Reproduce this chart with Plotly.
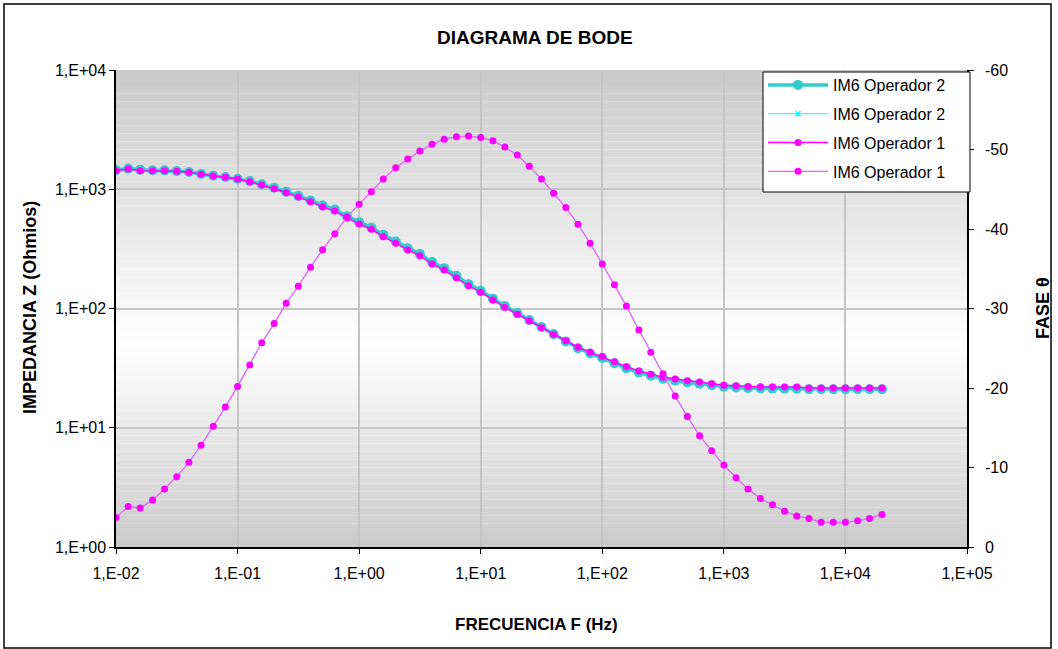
import plotly.graph_objects as go

# ---------------- data ----------------
freq_hz = [0.01, 0.0126, 0.0158, 0.02, 0.0251, 0.0316, 0.0398, 0.0501, 0.0631, 0.0794,
           0.1, 0.126, 0.158, 0.2, 0.251, 0.316, 0.398, 0.501, 0.631, 0.794,
           1, 1.26, 1.58, 2, 2.51, 3.16, 3.98, 5.01, 6.31, 7.94,
           10, 12.6, 15.8, 20, 25.1, 31.6, 39.8, 50.1, 63.1, 79.4,
           100, 126, 158, 200, 251, 316, 398, 501, 631, 794,
           1000, 1260, 1580, 2000, 2510, 3160, 3980, 5010, 6310, 7940,
           10000, 12600, 15800, 20000]

z_op1 = [1432, 1479, 1432, 1432, 1432, 1413, 1387, 1334, 1291, 1259,
         1219, 1157, 1085, 1011, 936, 861, 787, 710, 657, 575,
         511, 462, 400, 352, 310, 277, 236, 210, 181, 155,
         137, 118, 102, 89.5, 78.6, 69, 60.5, 53.7, 47.3, 42.9,
         39.5, 35.8, 32.5, 29.9, 28.1, 26.5, 25.6, 24.8, 24.2, 23.4,
         22.7, 22.5, 22.1, 22.0, 22.0, 22.0, 22.0, 21.5, 21.5, 21.5,
         21.5, 21.5, 21.5, 21.5]

z_op2 = [1450, 1490, 1460, 1445, 1440, 1420, 1395, 1345, 1300, 1265,
         1225, 1170, 1100, 1030, 955, 880, 805, 730, 675, 595,
         530, 478, 415, 365, 320, 287, 245, 218, 188, 160,
         141, 121, 105, 91.5, 80, 70, 61, 53, 46.5, 42,
         38.5, 34.8, 31.5, 29, 27.3, 25.8, 24.8, 24, 23.4, 22.7,
         22.1, 21.8, 21.5, 21.4, 21.3, 21.2, 21.2, 21.0, 21.0, 21.0,
         21.0, 21.0, 21.0, 21.0]

fase_op1 = [-3.7, -5.1, -4.9, -5.9, -7.3, -8.85, -10.65, -12.8, -15.2, -17.6,
            -20.2, -22.9, -25.7, -28.1, -30.65, -32.8, -35.2, -37.4, -39.4, -41.5,
            -43.1, -44.7, -46.3, -47.7, -48.8, -49.8, -50.65, -51.3, -51.6, -51.7,
            -51.5, -51.1, -50.3, -49.3, -47.9, -46.3, -44.5, -42.7, -40.6, -38.2,
            -35.6, -33.0, -30.3, -27.3, -24.5, -21.8, -19.0, -16.4, -14.0, -12.1,
            -10.3, -8.7, -7.3, -6.1, -5.3, -4.5, -3.9, -3.6, -3.1, -3.1,
            -3.1, -3.3, -3.6, -4.1]

fase_op2 = [-3.7, -5.1, -4.9, -5.9, -7.3, -8.85, -10.65, -12.8, -15.2, -17.6,
            -20.2, -22.9, -25.7, -28.1, -30.65, -32.8, -35.2, -37.4, -39.4, -41.5,
            -43.1, -44.7, -46.3, -47.7, -48.8, -49.8, -50.65, -51.3, -51.6, -51.7,
            -51.5, -51.1, -50.3, -49.3, -47.9, -46.3, -44.5, -42.7, -40.6, -38.2,
            -35.6, -33.0, -30.3, -27.3, -24.5, -21.8, -19.0, -16.4, -14.0, -12.1,
            -10.3, -8.7, -7.3, -6.1, -5.3, -4.5, -3.9, -3.6, -3.1, -3.1,
            -3.1, -3.3, -3.6, -4.1]

x_tickvals = [0.01, 0.1, 1, 10, 100, 1000, 10000, 100000]
x_ticktext = ["1,E-02", "1,E-01", "1,E+00", "1,E+01", "1,E+02", "1,E+03", "1,E+04", "1,E+05"]
y_tickvals = [1, 10, 100, 1000, 10000]
y_ticktext = ["1,E+00", "1,E+01", "1,E+02", "1,E+03", "1,E+04"]
y2_tickvals = [0, -10, -20, -30, -40, -50, -60]
y2_ticktext = ["0", "-10", "-20", "-30", "-40", "-50", "-60"]

series_names = ["IM6 Operador 2", "IM6 Operador 2", "IM6 Operador 1", "IM6 Operador 1"]

# ---------------- layout geometry ----------------
W, H = 1058, 649
L, R, T, B = 116, 967, 70, 547
FONT = "Liberation Sans, Arial, sans-serif"


def px(x):
    return (x - L) / (R - L)


def py(y):
    return (B - y) / (B - T)


fig = go.Figure()

fig.add_trace(go.Scatter(
    x=freq_hz, y=z_op2, name=series_names[0], mode="lines+markers",
    line=dict(color="#33CCCC", width=3.5),
    marker=dict(symbol="circle", size=10, color="#33CCCC"),
    legendgroup="a"))
fig.add_trace(go.Scatter(
    x=freq_hz, y=fase_op2, name=series_names[1], mode="lines+markers", yaxis="y2",
    line=dict(color="#00FFFF", width=1),
    marker=dict(symbol="x-thin", size=5, color="#00FFFF", line=dict(color="#00FFFF", width=1.5)),
    legendgroup="b"))
fig.add_trace(go.Scatter(
    x=freq_hz, y=z_op1, name=series_names[2], mode="lines+markers",
    line=dict(color="#FF00FF", width=1.5),
    marker=dict(symbol="circle", size=7, color="#FF00FF"),
    legendgroup="c"))
fig.add_trace(go.Scatter(
    x=freq_hz, y=fase_op1, name=series_names[3], mode="lines+markers", yaxis="y2",
    line=dict(color="#FF55FF", width=1.2),
    marker=dict(symbol="circle", size=7, color="#FF00FF"),
    legendgroup="d"))

# gradient background of plot area (bands)
shapes = []
n_bands = 60
center = 345.0
for i in range(n_bands):
    y0 = T + (B - T) * i / n_bands
    y1 = T + (B - T) * (i + 1) / n_bands
    ym = (y0 + y1) / 2
    if ym < center:
        t = (center - ym) / (center - T)
    else:
        t = (ym - center) / (B - center)
    v = int(round(255 - t * (255 - 202)))
    shapes.append(dict(type="rect", xref="paper", yref="paper",
                       x0=0, x1=1, y0=py(y1), y1=py(y0),
                       fillcolor=f"rgb({v},{v},{v})", line=dict(width=0), layer="below"))
# legend box
shapes.append(dict(type="rect", xref="paper", yref="paper",
                   x0=px(763), x1=px(970), y0=py(192), y1=py(72),
                   line=dict(color="black", width=1), fillcolor="white", layer="above"))
# outer chart border
shapes.append(dict(type="rect", xref="paper", yref="paper",
                   x0=px(4), x1=px(1051), y0=py(648), y1=py(4),
                   line=dict(color="black", width=1.5), fillcolor="rgba(0,0,0,0)", layer="above"))

annotations = [
    dict(text="<b>DIAGRAMA DE BODE</b>", xref="paper", yref="paper", x=px(535), y=py(37),
         showarrow=False, font=dict(family=FONT, size=19, color="black"), xanchor="center", yanchor="middle"),
    dict(text="<b>FRECUENCIA F (Hz)</b>", xref="paper", yref="paper", x=px(536), y=py(624),
         showarrow=False, font=dict(family=FONT, size=17, color="black"), xanchor="center", yanchor="middle"),
    dict(text="<b>IMPEDANCIA Z (Ohmios)</b>", xref="paper", yref="paper", x=px(30), y=py(308),
         showarrow=False, textangle=-90, font=dict(family=FONT, size=18, color="black"),
         xanchor="center", yanchor="middle"),
    dict(text="<b>FASE θ</b>", xref="paper", yref="paper", x=px(1043), y=py(308),
         showarrow=False, textangle=-90, font=dict(family=FONT, size=18, color="black"),
         xanchor="center", yanchor="middle"),
]

fig.update_layout(
    width=W, height=H,
    margin=dict(l=L, r=W - R, t=T, b=H - B, pad=0),
    paper_bgcolor="white", plot_bgcolor="white",
    font=dict(family=FONT, size=16, color="black"),
    showlegend=True,
    legend=dict(x=px(763), y=py(68), xanchor="left", yanchor="top",
                bgcolor="rgba(0,0,0,0)", borderwidth=0,
                font=dict(family=FONT, size=16, color="black"),
                tracegroupgap=5, itemwidth=60, traceorder="grouped"),
    xaxis=dict(type="log", range=[-2, 5], tickvals=x_tickvals, ticktext=x_ticktext,
               showgrid=True, gridcolor="#c4c4c4", gridwidth=1.5,
               showline=True, linecolor="black", linewidth=1.5,
               ticks="outside", ticklen=5, tickcolor="black", ticklabelstandoff=6,
               tickfont=dict(size=16), zeroline=False),
    yaxis=dict(type="log", range=[0, 4], tickvals=y_tickvals, ticktext=y_ticktext,
               showgrid=True, gridcolor="#c4c4c4", gridwidth=1.5,
               showline=True, linecolor="black", linewidth=1.5,
               ticks="outside", ticklen=5, tickcolor="black",
               tickfont=dict(size=16), zeroline=False),
    yaxis2=dict(overlaying="y", side="right", range=[0, -60],
                tickvals=y2_tickvals, ticktext=y2_ticktext,
                showgrid=False, showline=True, linecolor="black", linewidth=1.5,
                ticks="outside", ticklen=5, tickcolor="black", ticklabelstandoff=8,
                tickfont=dict(size=16), zeroline=False),
    shapes=shapes,
    annotations=annotations,
)

fig.write_html("out.html",
               config={"displayModeBar": False},
               post_script="document.body.style.margin='0';document.body.style.overflow='hidden';")
